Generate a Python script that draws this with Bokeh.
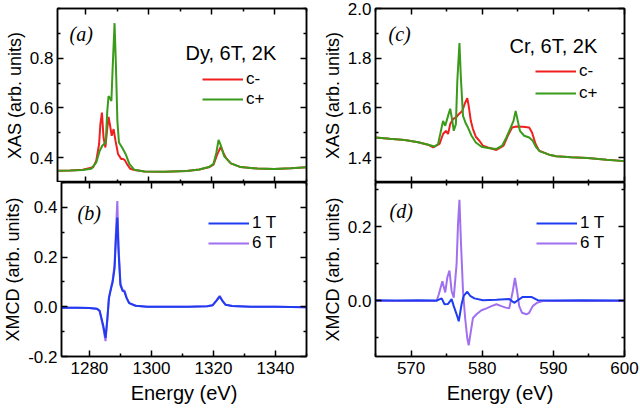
from bokeh.plotting import figure
from bokeh.models import LinearAxis, FixedTicker, Label, Legend, LegendItem, Range1d, PrintfTickFormatter
from bokeh.layouts import column, row
from bokeh.embed import file_html
from bokeh.resources import INLINE

FONT = "Liberation Sans"
RED, GREEN, BLUE, PURPLE = "#f02020", "#3a9a1a", "#1f3cf0", "#a070f0"

# ---------------- data ----------------
dy_e_plus = [1271, 1275, 1279, 1281.7, 1283.3, 1284.4, 1285.2, 1286.3, 1286.8, 1287.2, 1287.6, 1288.1, 1288.5,
             1289.1, 1289.5, 1290.0, 1290.5, 1291.5, 1292.6, 1293.8, 1295.4, 1298.6, 1305, 1312, 1316, 1319,
             1320.5, 1321.4, 1322.1, 1322.8, 1323.9, 1326.0, 1329.1, 1334.4, 1339.7, 1345, 1350]
dy_plus = [0.347, 0.348, 0.350, 0.355, 0.381, 0.428, 0.448, 0.461, 0.588, 0.648, 0.641, 0.628, 0.761,
           0.941, 0.788, 0.548, 0.461, 0.441, 0.415, 0.375, 0.351, 0.344, 0.343, 0.346, 0.352, 0.362,
           0.375, 0.420, 0.471, 0.450, 0.405, 0.377, 0.362, 0.356, 0.354, 0.357, 0.361]

dy_e_minus = [1271, 1275, 1279, 1282.3, 1283.3, 1284.2, 1284.6, 1285.1, 1285.6, 1286.2, 1286.7, 1287.2, 1287.7,
              1288.2, 1288.8, 1289.4, 1290.2, 1291.2, 1291.7, 1292.3, 1293.0, 1294.1, 1295.4, 1298.6, 1305,
              1312, 1316, 1319, 1320.5, 1321.6, 1322.8, 1323.6, 1324.5, 1326.0, 1329.1, 1334.4, 1339.7, 1345, 1350]
dy_minus = [0.347, 0.348, 0.351, 0.361, 0.388, 0.455, 0.535, 0.581, 0.481, 0.441, 0.508, 0.564, 0.528,
            0.488, 0.515, 0.468, 0.415, 0.395, 0.395, 0.391, 0.375, 0.355, 0.350, 0.344, 0.343,
            0.346, 0.352, 0.361, 0.372, 0.410, 0.444, 0.420, 0.398, 0.377, 0.362, 0.356, 0.354, 0.357, 0.361]

dy_m_e = [1271, 1276, 1280, 1282.5, 1283.3, 1284.4, 1285.2, 1285.8, 1286.3, 1287.0, 1287.5, 1288.1, 1288.6,
          1289.0, 1289.4, 1290.0, 1290.7, 1291.3, 1292.0, 1292.8, 1294.9, 1298.6, 1305, 1312, 1318, 1319.7,
          1321.0, 1322.0, 1322.8, 1323.9, 1326, 1332, 1340, 1350]
dy_1t = [-0.004, -0.004, -0.005, -0.008, -0.016, -0.072, -0.125, -0.045, 0.035, 0.074, 0.100, 0.154, 0.286,
         0.359, 0.220, 0.087, 0.064, 0.061, 0.035, 0.015, 0.004, 0.000, 0.000, 0.000, 0.002, 0.006,
         0.025, 0.041, 0.025, 0.008, 0.003, 0.000, 0.000, -0.002]
dy_6t = [-0.004, -0.004, -0.005, -0.009, -0.018, -0.080, -0.138, -0.050, 0.038, 0.080, 0.108, 0.168, 0.320,
         0.425, 0.245, 0.094, 0.068, 0.065, 0.037, 0.016, 0.004, 0.000, 0.000, 0.000, 0.002, 0.006,
         0.027, 0.044, 0.027, 0.009, 0.003, 0.000, 0.000, -0.002]

cr_e_plus = [565.0, 567.0, 569.1, 571.0, 572.4, 573.3, 573.8, 574.1, 574.5, 574.8, 575.2, 575.5, 575.8, 576.0,
             576.3, 576.5, 576.8, 577.0, 577.3, 577.7, 578.0, 578.5, 579.1, 579.9, 580.8, 582.0, 582.8, 583.4,
             584.0, 584.4, 584.7, 585.0, 585.3, 585.9, 586.6, 587.1, 587.6, 588.1, 589.4, 590.4, 592.5, 594.8,
             597.5, 600.0]
cr_plus = [1.481, 1.476, 1.471, 1.462, 1.452, 1.445, 1.455, 1.495, 1.548, 1.528, 1.568, 1.597, 1.548, 1.508,
           1.535, 1.708, 1.861, 1.721, 1.568, 1.537, 1.521, 1.488, 1.461, 1.444, 1.439, 1.435, 1.448, 1.481,
           1.521, 1.548, 1.588, 1.548, 1.508, 1.488, 1.481, 1.468, 1.441, 1.425, 1.412, 1.406, 1.402, 1.399,
           1.392, 1.386]

cr_e_minus = [565.0, 567.0, 569.1, 571.0, 572.4, 573.1, 574.0, 574.5, 574.9, 575.2, 575.5, 575.9, 576.4, 576.7,
              577.2, 577.6, 577.9, 578.1, 578.4, 578.7, 579.1, 579.6, 580.1, 580.8, 582.0, 583.0, 583.6, 584.2,
              584.8, 585.7, 586.6, 587.0, 587.5, 588.0, 589.4, 590.4, 592.5, 594.8, 597.5, 600.0]
cr_minus = [1.481, 1.476, 1.471, 1.462, 1.452, 1.441, 1.455, 1.495, 1.508, 1.495, 1.535, 1.555, 1.564, 1.575,
            1.588, 1.621, 1.639, 1.608, 1.548, 1.515, 1.484, 1.468, 1.448, 1.441, 1.431, 1.448, 1.488, 1.521,
            1.525, 1.524, 1.521, 1.501, 1.455, 1.428, 1.412, 1.406, 1.402, 1.399, 1.392, 1.386]

cr_m1_e = [565, 568, 571, 573.6, 574.3, 574.7, 575.2, 575.7, 576.0, 576.4, 576.7, 577.1, 577.4, 577.9, 578.3,
           578.9, 580.1, 582.0, 583.8, 584.5, 585.0, 585.7, 586.9, 587.8, 590, 594, 600]
cr_1t = [0.002, 0.001, 0.002, 0.001, 0.007, -0.009, -0.008, 0.005, -0.014, -0.036, -0.055, -0.009, 0.014, 0.025,
         0.014, 0.007, 0.002, 0.003, 0.005, -0.005, 0.002, 0.011, 0.011, 0.002, 0.001, 0.002, 0.001]

cr_m6_e = [565, 570, 573.6, 573.9, 574.4, 574.8, 575.1, 575.4, 575.7, 576.0, 576.4, 576.6, 576.8, 577.0, 577.3,
           577.6, 577.9, 578.1, 578.4, 578.7, 579.2, 579.9, 580.6, 581.3, 582.0, 582.7, 583.3, 583.8, 584.3,
           584.6, 584.9, 585.2, 585.6, 586.2, 586.6, 587.1, 587.7, 588.5, 592, 600]
cr_6t = [0.0, 0.0, 0.0, 0.018, 0.053, 0.023, 0.064, 0.082, 0.027, 0.009, 0.100, 0.209, 0.273, 0.164, 0.027,
         -0.046, -0.100, -0.120, -0.082, -0.046, -0.036, -0.025, -0.020, -0.014, -0.009, -0.014, -0.018, -0.020,
         0.027, 0.062, 0.027, -0.014, -0.032, -0.036, -0.032, -0.014, -0.005, 0.0, 0.0, 0.0]

dy_x_major = [1280, 1300, 1320, 1340]
dy_x_minor = [1290, 1310, 1330, 1350]
cr_x_major = [570, 580, 590, 600]
cr_x_minor = [565, 575, 585, 595]


def style_axis(ax, major, minor, show_labels, fmt=None, label=None, label_size="18px", vertical=False):
    ax.ticker = FixedTicker(ticks=major, minor_ticks=minor)
    ax.major_tick_in = 6
    ax.major_tick_out = 0
    ax.minor_tick_in = 3
    ax.minor_tick_out = 0
    for attr in ("axis_line", "major_tick_line", "minor_tick_line"):
        setattr(ax, attr + "_width", 1.5)
        setattr(ax, attr + "_color", "black")
    if fmt:
        ax.formatter = PrintfTickFormatter(format=fmt)
    if show_labels:
        ax.major_label_text_font = FONT
        ax.major_label_text_font_size = "17px"
        ax.major_label_text_color = "black"
        ax.major_label_standoff = 4 if vertical else 5
    else:
        # mirror axes: ticks only, no labels drawn
        ax.major_label_text_alpha = 0
        ax.major_label_text_font_size = "0px"
        ax.major_label_standoff = 0
    if label:
        ax.axis_label = label
        ax.axis_label_text_font = FONT
        ax.axis_label_text_font_size = label_size
        ax.axis_label_text_font_style = "normal"
        ax.axis_label_text_color = "black"
        ax.axis_label_standoff = 2 if vertical else 5


def make_fig(width, height, xr, yr, xmaj, xmin, ymaj, ymin, show_x, ylabel, borders):
    p = figure(width=width, height=height, x_range=Range1d(*xr), y_range=Range1d(*yr),
               output_backend="svg", toolbar_location=None,
               min_border_left=borders[0], min_border_right=borders[1],
               min_border_top=borders[2], min_border_bottom=borders[3])
    p.xgrid.visible = False
    p.ygrid.visible = False
    p.outline_line_color = "black"
    p.outline_line_width = 1.5
    p.background_fill_color = "white"
    p.border_fill_color = "white"
    style_axis(p.xaxis[0], xmaj, xmin, show_x, fmt="%d",
               label="Energy (eV)" if show_x else None, label_size="20px")
    style_axis(p.yaxis[0], ymaj, ymin, True, fmt="%.1f", label=ylabel, vertical=True)
    top = LinearAxis()
    style_axis(top, xmaj, xmin, False)
    p.add_layout(top, "above")
    right = LinearAxis()
    style_axis(right, ymaj, ymin, False)
    p.add_layout(right, "right")
    return p


def add_label(p, text, x, y, serif=False, baseline="middle"):
    lab = Label(x=x, y=y, x_units="screen", y_units="screen", text=text,
                text_font="Liberation Serif" if serif else FONT,
                text_font_style="italic" if serif else "normal",
                text_font_size="20px",
                text_baseline=baseline, text_color="black")
    p.add_layout(lab)


def add_legend(p, items, loc, spacing=0):
    leg = Legend(items=items, location=loc, padding=0, margin=0, spacing=spacing,
                 glyph_width=41, glyph_height=20, label_height=20, label_standoff=3,
                 label_text_font=FONT, label_text_font_size="17px", label_text_color="black",
                 background_fill_alpha=0, border_line_alpha=0)
    p.add_layout(leg)


LW, RW = 318, 322      # figure widths (left / right column)
TH, BH = 182, 229      # figure heights (top / bottom row)
LB = 57                # left border of every panel

# ---- (a) Dy XAS ----
pa = make_fig(LW, TH, (1271, 1350), (0.3, 1.0), dy_x_major, dy_x_minor,
              [0.4, 0.6, 0.8], [0.3, 0.5, 0.7, 0.9, 1.0], False, "XAS (arb. units)", (LB, 12, 8, 0))
ra1 = pa.line(dy_e_minus, dy_minus, line_color=RED, line_width=2)
ra2 = pa.line(dy_e_plus, dy_plus, line_color=GREEN, line_width=2)
add_legend(pa, [LegendItem(label="c-", renderers=[ra1]), LegendItem(label="c+", renderers=[ra2])], (145, 73))
add_label(pa, "(a)", 12, 149, serif=True)
add_label(pa, "Dy, 6T, 2K", 128, 130, baseline="alphabetic")

# ---- (c) Cr XAS ----
pc = make_fig(RW, TH, (565, 600), (1.3, 2.0), cr_x_major, cr_x_minor,
              [1.4, 1.6, 1.8, 2.0], [1.3, 1.5, 1.7, 1.9], False, "XAS (arb. units)", (LB, 16, 8, 0))
rc1 = pc.line(cr_e_minus, cr_minus, line_color=RED, line_width=2)
rc2 = pc.line(cr_e_plus, cr_plus, line_color=GREEN, line_width=2)
add_legend(pc, [LegendItem(label="c-", renderers=[rc1]), LegendItem(label="c+", renderers=[rc2])], (160, 79), spacing=2)
add_label(pc, "(c)", 13, 149, serif=True)
add_label(pc, "Cr, 6T, 2K", 134, 137, baseline="alphabetic")

# ---- (b) Dy XMCD ----
pb = make_fig(LW, BH, (1271, 1350), (-0.2, 0.5), dy_x_major, dy_x_minor,
              [-0.2, 0.0, 0.2, 0.4], [-0.1, 0.1, 0.3, 0.5], True, "XMCD (arb. units)", (LB, 12, 0, 55))
rb2 = pb.line(dy_m_e, dy_6t, line_color=PURPLE, line_width=2)
rb1 = pb.line(dy_m_e, dy_1t, line_color=BLUE, line_width=2)
add_legend(pb, [LegendItem(label="1 T", renderers=[rb1]), LegendItem(label="6 T", renderers=[rb2])], (147, 103))
add_label(pb, "(b)", 16, 144, serif=True)

# ---- (d) Cr XMCD ----
pd_ = make_fig(RW, BH, (565, 600), (-0.15, 0.32), cr_x_major, cr_x_minor,
               [0.0, 0.2], [-0.1, 0.1, 0.3], True, "XMCD (arb. units)", (LB, 16, 0, 55))
rd2 = pd_.line(cr_m6_e, cr_6t, line_color=PURPLE, line_width=2)
rd1 = pd_.line(cr_m1_e, cr_1t, line_color=BLUE, line_width=2)
add_legend(pd_, [LegendItem(label="1 T", renderers=[rd1]), LegendItem(label="6 T", renderers=[rd2])], (161, 103))
add_label(pd_, "(d)", 14, 146, serif=True)

layout = column(row(pa, pc), row(pb, pd_))
open("out.html", "w").write(file_html(layout, INLINE))
